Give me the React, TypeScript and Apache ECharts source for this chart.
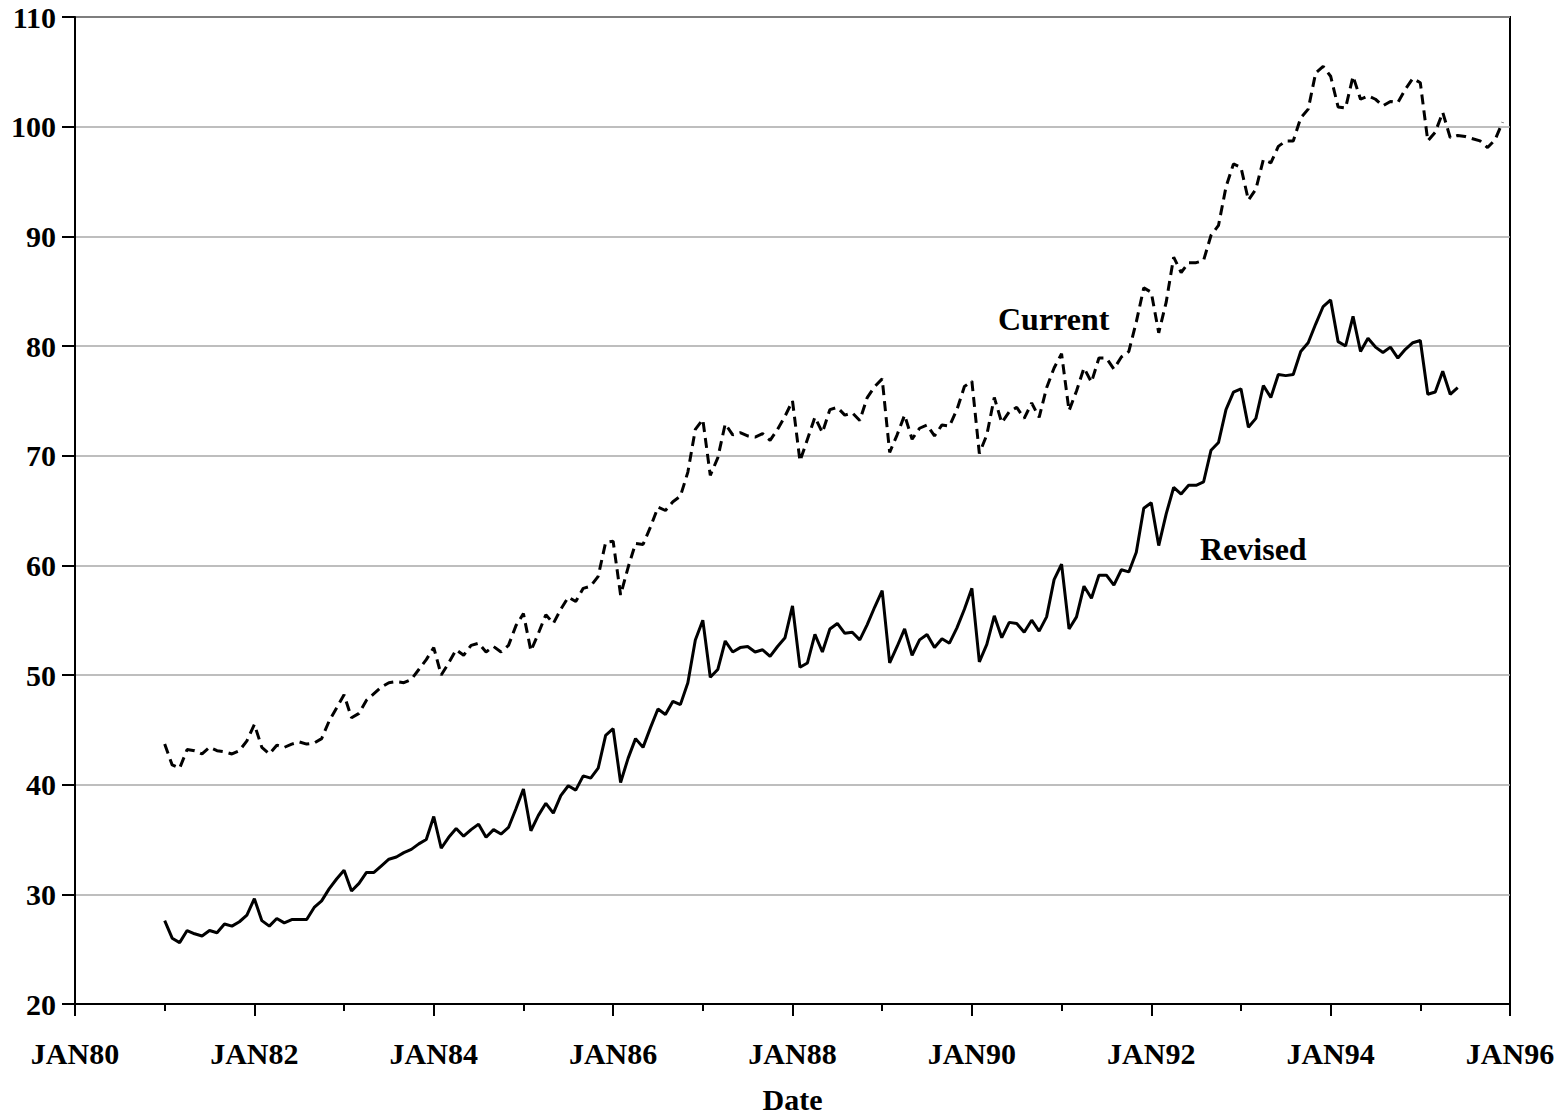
import React, { useEffect, useRef } from "react";
import * as echarts from "echarts";

// Monthly values starting JAN81 (month index 12 counted from JAN80)
const START_MONTH = 12;

const currentValues: number[] = [
  43.7, 41.8, 41.5, 43.2, 43.1, 42.8, 43.4, 43.1, 43.0, 42.8, 43.1, 44.0,
  45.5, 43.4, 42.8, 43.6, 43.4, 43.7, 43.9, 43.7, 43.8, 44.2, 45.8, 47.0,
  48.2, 46.1, 46.5, 47.7, 48.3, 48.9, 49.3, 49.4, 49.3, 49.6, 50.5, 51.4,
  52.5, 50.0, 51.1, 52.3, 51.8, 52.7, 52.9, 52.1, 52.6, 52.1, 52.7, 54.5,
  55.6, 52.2, 53.8, 55.5, 54.7, 56.0, 57.1, 56.7, 57.9, 58.1, 59.0, 62.1,
  62.2, 57.3, 59.8, 62.0, 61.9, 63.5, 65.3, 65.0, 65.8, 66.3, 68.5, 72.4,
  73.3, 68.2, 69.8, 72.9, 71.9, 72.1, 71.8, 71.7, 72.0, 71.4, 72.4, 73.6,
  75.0, 69.5, 71.5, 73.5, 72.1, 74.2, 74.4, 73.7, 73.9, 73.2, 75.3, 76.3,
  77.0, 70.3, 71.9, 73.7, 71.5, 72.5, 72.8, 71.8, 72.8, 72.7, 74.2, 76.3,
  76.8, 70.2, 71.9, 75.3, 73.0, 74.0, 74.4, 73.4, 74.8, 73.5, 76.2, 78.0,
  79.3, 74.1, 75.9, 78.0, 76.7, 78.9, 78.9, 77.9, 79.0, 79.5, 82.2, 85.3,
  84.9, 81.2, 84.0, 88.1, 86.7, 87.6, 87.6, 87.8, 90.1, 91.0, 94.5, 96.6,
  96.3, 93.3, 94.3, 97.0, 96.7, 98.2, 98.7, 98.7, 100.8, 101.6, 104.9, 105.5,
  104.6, 101.8, 101.7, 104.6, 102.5, 102.8, 102.5, 101.9, 102.3, 102.2, 103.4, 104.4,
  104.0, 98.7, 99.5, 101.3, 99.0, 99.2, 99.1, 98.9, 98.7, 98.1, 98.8, 100.4,
];

const revisedValues: number[] = [
  27.6, 26.0, 25.6, 26.7, 26.4, 26.2, 26.7, 26.5, 27.3, 27.1, 27.5, 28.1,
  29.6, 27.6, 27.1, 27.8, 27.4, 27.7, 27.7, 27.7, 28.8, 29.4, 30.5, 31.4,
  32.2, 30.3, 31.0, 32.0, 32.0, 32.6, 33.2, 33.4, 33.8, 34.1, 34.6, 35.0,
  37.1, 34.2, 35.2, 36.0, 35.3, 35.9, 36.4, 35.2, 35.9, 35.5, 36.1, 37.8,
  39.6, 35.8, 37.2, 38.3, 37.4, 39.0, 39.9, 39.5, 40.8, 40.6, 41.5, 44.5,
  45.1, 40.2, 42.4, 44.2, 43.4, 45.2, 46.9, 46.4, 47.6, 47.3, 49.3, 53.2,
  55.0, 49.8, 50.5, 53.1, 52.1, 52.5, 52.6, 52.1, 52.3, 51.7, 52.6, 53.4,
  56.3, 50.7, 51.1, 53.7, 52.1, 54.2, 54.7, 53.8, 53.9, 53.2, 54.6, 56.2,
  57.7, 51.1, 52.6, 54.2, 51.8, 53.2, 53.7, 52.5, 53.3, 52.9, 54.3, 56.0,
  57.9, 51.2, 52.8, 55.4, 53.4, 54.8, 54.7, 53.9, 55.0, 54.0, 55.3, 58.7,
  60.1, 54.2, 55.3, 58.1, 57.0, 59.1, 59.1, 58.2, 59.6, 59.4, 61.2, 65.2,
  65.7, 61.8, 64.7, 67.1, 66.5, 67.3, 67.3, 67.6, 70.5, 71.2, 74.2, 75.8,
  76.1, 72.6, 73.4, 76.4, 75.3, 77.4, 77.3, 77.4, 79.5, 80.3, 82.0, 83.6,
  84.2, 80.4, 80.0, 82.7, 79.5, 80.7, 79.9, 79.4, 79.9, 78.9, 79.7, 80.3,
  80.5, 75.6, 75.8, 77.7, 75.6, 76.2,
];

const yTicks = { min: 20, max: 110, interval: 10 };
const xTicks = { min: 0, max: 192, interval: 24 };
const xLabelPrefix = "JAN";
const baseYear = 80;
const seriesNames = ["Current", "Revised"];
const xAxisTitle = "Date";

const FONT = "'Liberation Serif', 'Times New Roman', serif";

function toPairs(vals: number[]): [number, number][] {
  return vals.map((v, i) => [START_MONTH + i, v]);
}

export default function App() {
  const ref = useRef<HTMLDivElement>(null);
  useEffect(() => {
    if (!ref.current) return;
    const chart = echarts.init(ref.current, null, { renderer: "svg" });
    const axisLabelStyle = {
      fontFamily: FONT,
      fontWeight: "bold" as const,
      fontSize: 30,
      color: "#000",
    };
    chart.setOption({
      animation: false,
      backgroundColor: "#fff",
      grid: {
        left: 75,
        right: 56,
        top: 17,
        bottom: 109,
        show: true,
        borderColor: "#000",
        borderWidth: 2,
        backgroundColor: "transparent",
      },
      xAxis: {
        type: "value",
        min: xTicks.min,
        max: xTicks.max,
        interval: xTicks.interval,
        axisLine: { show: true, lineStyle: { color: "#000", width: 2 } },
        axisTick: { show: true, length: 12, lineStyle: { color: "#000", width: 2 } },
        minorTick: { show: true, splitNumber: 2, length: 7, lineStyle: { color: "#000", width: 2 } },
        splitLine: { show: false },
        axisLabel: {
          ...axisLabelStyle,
          margin: 34,
          formatter: (v: number) =>
            xLabelPrefix + String((baseYear + v / 12) % 100).padStart(2, "0"),
        },
        name: xAxisTitle,
        nameLocation: "middle",
        nameGap: 80,
        nameTextStyle: { ...axisLabelStyle, fontSize: 30, verticalAlign: "top" },
      },
      yAxis: {
        type: "value",
        min: yTicks.min,
        max: yTicks.max,
        interval: yTicks.interval,
        axisLine: { show: true, lineStyle: { color: "#000", width: 2 } },
        axisTick: { show: true, length: 13, lineStyle: { color: "#000", width: 2 } },
        splitLine: { show: true, lineStyle: { color: "#a8a8a8", width: 1.5 } },
        axisLabel: { ...axisLabelStyle, margin: 19 },
      },
      series: [
        {
          name: seriesNames[0],
          type: "line",
          data: toPairs(currentValues),
          showSymbol: false,
          symbol: "none",
          lineStyle: { color: "#000", width: 3, type: [10, 6] },
          z: 3,
        },
        {
          name: seriesNames[1],
          type: "line",
          data: toPairs(revisedValues),
          showSymbol: false,
          symbol: "none",
          lineStyle: { color: "#000", width: 3, type: "solid" },
          z: 3,
        },
      ],
      graphic: [
        {
          type: "text",
          left: 998,
          top: 303,
          style: {
            text: seriesNames[0],
            font: `bold 32px ${FONT}`,
            fill: "#000",
          },
        },
        {
          type: "text",
          left: 1200,
          top: 533,
          style: {
            text: seriesNames[1],
            font: `bold 32px ${FONT}`,
            fill: "#000",
          },
        },
      ],
    });
    return () => chart.dispose();
  }, []);
  return (
    <div
      ref={ref}
      style={{ position: "absolute", left: 0, top: 0, width: 1566, height: 1119, background: "#fff" }}
    />
  );
}
